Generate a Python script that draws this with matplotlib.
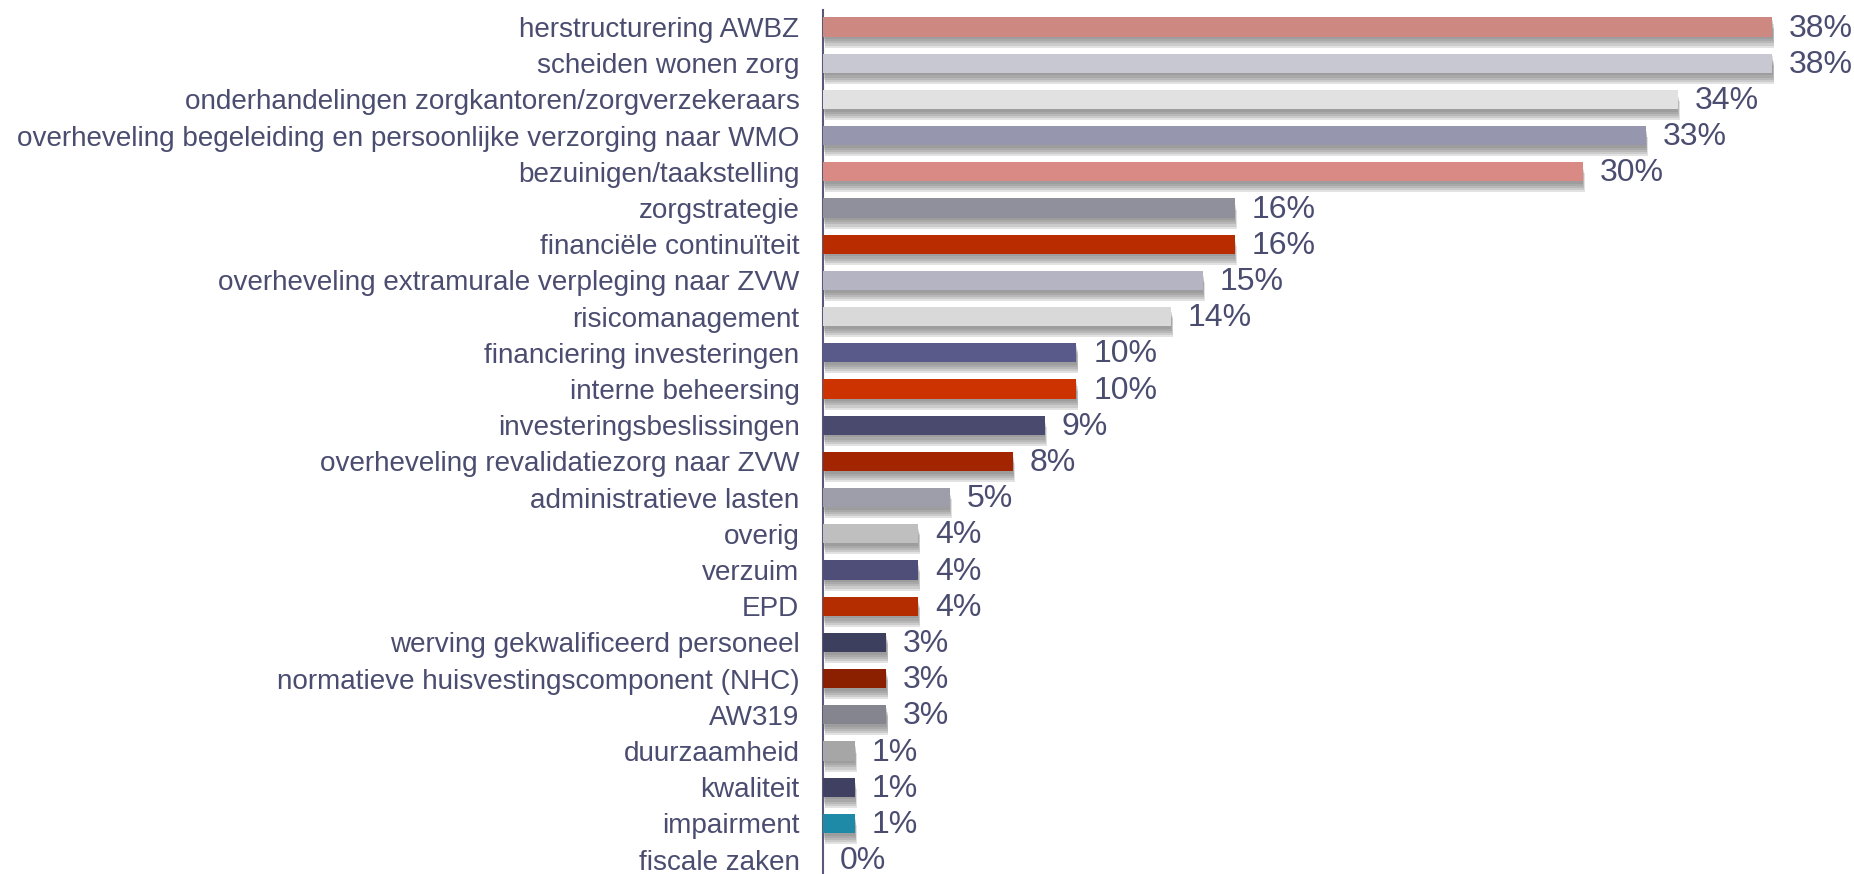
import matplotlib
matplotlib.use("Agg")
import matplotlib.pyplot as plt
import matplotlib.patheffects as pe

categories = [
    "herstructurering AWBZ",
    "scheiden wonen zorg",
    "onderhandelingen zorgkantoren/zorgverzekeraars",
    "overheveling begeleiding en persoonlijke verzorging naar WMO",
    "bezuinigen/taakstelling",
    "zorgstrategie",
    "financiële continuïteit",
    "overheveling extramurale verpleging naar ZVW",
    "risicomanagement",
    "financiering investeringen",
    "interne beheersing",
    "investeringsbeslissingen",
    "overheveling revalidatiezorg naar ZVW",
    "administratieve lasten",
    "overig",
    "verzuim",
    "EPD",
    "werving gekwalificeerd personeel",
    "normatieve huisvestingscomponent (NHC)",
    "AW319",
    "duurzaamheid",
    "kwaliteit",
    "impairment",
    "fiscale zaken",
]

values = [37.97, 37.97, 34.18, 32.91, 30.38, 16.46, 16.46, 15.19, 13.92, 10.13,
          10.13, 8.86, 7.59, 5.06, 3.80, 3.80, 3.80, 2.53, 2.53, 2.53,
          1.27, 1.27, 1.27, 0.0]

labels = ["38%", "38%", "34%", "33%", "30%", "16%", "16%", "15%", "14%", "10%",
          "10%", "9%", "8%", "5%", "4%", "4%", "4%", "3%", "3%", "3%",
          "1%", "1%", "1%", "0%"]

colors = ["#cd8882", "#c8c8d2", "#e1e1e1", "#9696ae", "#d98a84", "#8f909c",
          "#b82c00", "#b4b4c3", "#d9d9d9", "#5a5a8a", "#cc3300", "#4a4a6e",
          "#a32400", "#9e9eaa", "#bfbfbf", "#4e4e78", "#b32d00", "#3d3f5e",
          "#8a2000", "#85858f", "#a6a6a6", "#404063", "#1f8aa8", "#ffffff"]

text_color = "#4b4d70"

W, H = 1854, 874
fig = plt.figure(figsize=(W / 100, H / 100), dpi=100)
ax_left = 823 / W
ax_width = 1000 / W
ax_top_px = 10
ax = fig.add_axes([ax_left, 0, ax_width, (H - ax_top_px) / H])

pitch = 36.2
first_center = 27
ax.set_ylim((H - first_center) / pitch, (ax_top_px - first_center) / pitch)
ax.set_xlim(0, 40)

ypos = list(range(len(categories)))

shadow = [pe.SimplePatchShadow(offset=(dx, -d), shadow_rgbFace="#6a6a6a", alpha=0.19)
          for dx, d in ((0.3, 2.0), (0.6, 3.5), (0.9, 5.0), (1.2, 6.5), (1.5, 8.0))] + [pe.Normal()]

bars = ax.barh(ypos, values, height=0.525, color=colors, zorder=3)
for b, v in zip(bars, values):
    if v > 0:
        b.set_path_effects(shadow)

for y, v, lab in zip(ypos, values, labels):
    ax.annotate(lab, xy=(v, y), xytext=(12.2, -1.2), textcoords="offset points",
                ha="left", va="center", fontsize=23, color=text_color,
                family="Liberation Sans")

ax.set_yticks(ypos)
ax.set_yticklabels(categories, fontsize=20.1, color=text_color, family="Liberation Sans")
ax.tick_params(axis="y", length=0, pad=17)
ax.set_xticks([])
for s in ("top", "right", "bottom"):
    ax.spines[s].set_visible(False)
ax.spines["left"].set_color("#5a5a78")
ax.spines["left"].set_linewidth(1.5)
ax.patch.set_alpha(0)

fig.savefig("out.png", dpi=100, facecolor="white")
